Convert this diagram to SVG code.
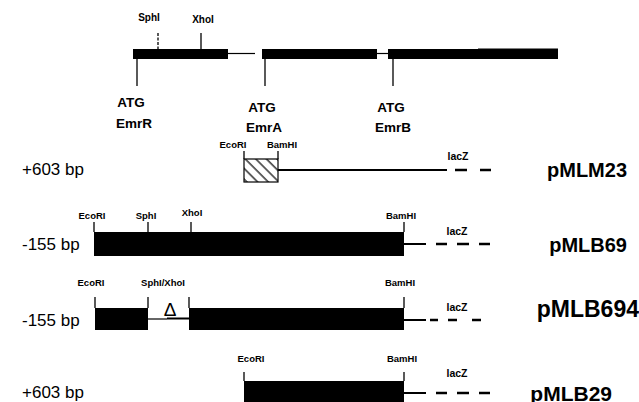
<svg xmlns="http://www.w3.org/2000/svg" width="639" height="402" viewBox="0 0 639 402">
<style>
text{font-family:"Liberation Sans",Arial,sans-serif;fill:#000}
.site{font-size:9.5px;font-weight:bold;text-anchor:middle}
.atg{font-size:13.5px;font-weight:bold;text-anchor:middle}
.bp{font-size:17px}
.name{font-size:20px;font-weight:bold;text-anchor:end}
.lac{font-size:10.5px;font-weight:bold;text-anchor:middle}
.tick{stroke:#000;stroke-width:1.3;fill:none}
.thin{stroke:#000;stroke-width:1.2;fill:none}
.ln{stroke:#000;stroke-width:2;fill:none}
.dash{stroke:#000;stroke-width:2.5;fill:none}
.bar{fill:#000}
</style>
<defs>
<pattern id="hatch" patternUnits="userSpaceOnUse" width="7.5" height="7.5" patternTransform="rotate(-45)">
<line x1="1" y1="0" x2="1" y2="7.5" stroke="#000" stroke-width="1.2"/>
</pattern>
</defs>
<rect width="639" height="402" fill="#fff"/>

<g id="genemap">
<rect class="bar" x="133" y="49" width="95" height="10"/>
<line class="thin" x1="228" y1="53.5" x2="255" y2="53.5"/>
<rect class="bar" x="262" y="49" width="115" height="10"/>
<line class="thin" x1="377" y1="53.5" x2="388" y2="53.5"/>
<rect class="bar" x="388" y="49" width="90" height="10"/>
<rect class="bar" x="478" y="48.5" width="80" height="10.5"/>
<line class="tick" x1="158" y1="33" x2="158" y2="49" stroke-dasharray="3,1.5"/>
<line class="tick" x1="201" y1="33" x2="201" y2="49"/>
<text class="site" x="149" y="21" style="font-size:10px">SphI</text>
<text class="site" x="203" y="23" style="font-size:10px">XhoI</text>
<line class="tick" x1="137" y1="59" x2="137" y2="86"/>
<line class="tick" x1="265" y1="59" x2="265" y2="86"/>
<line class="tick" x1="393" y1="59" x2="393" y2="86"/>
<text class="atg" x="131" y="107">ATG</text>
<text class="atg" x="134" y="128">EmrR</text>
<text class="atg" x="262" y="112">ATG</text>
<text class="atg" x="264" y="132">EmrA</text>
<text class="atg" x="391" y="112">ATG</text>
<text class="atg" x="393" y="132">EmrB</text>
</g>

<g id="pMLM23">
<text class="bp" x="22" y="175">+603 bp</text>
<rect x="244" y="159" width="34" height="23" fill="url(#hatch)" stroke="#000" stroke-width="1.2"/>
<line class="tick" x1="244" y1="151" x2="244" y2="159"/>
<line class="tick" x1="278" y1="151" x2="278" y2="159"/>
<text class="site" x="233" y="148">EcoRI</text>
<text class="site" x="282" y="148">BamHI</text>
<text class="lac" x="458" y="160">lacZ</text>
<text class="name" x="627" y="177">pMLM23</text>
</g>

<g id="pMLB69">
<text class="bp" x="22" y="250">-155 bp</text>
<rect class="bar" x="94" y="232" width="310" height="24"/>
<line class="tick" x1="94" y1="222" x2="94" y2="232"/>
<line class="tick" x1="148" y1="222" x2="148" y2="232"/>
<line class="tick" x1="191" y1="222" x2="191" y2="232"/>
<line class="tick" x1="404" y1="222" x2="404" y2="232"/>
<text class="site" x="92" y="219">EcoRI</text>
<text class="site" x="146" y="219">SphI</text>
<text class="site" x="192" y="216">XhoI</text>
<text class="site" x="401" y="219">BamHI</text>
<text class="lac" x="457" y="235">lacZ</text>
<text class="name" x="627" y="252">pMLB69</text>
</g>

<g id="pMLB694">
<text class="bp" x="22" y="326">-155 bp</text>
<rect class="bar" x="95" y="308" width="53" height="22"/>
<rect class="bar" x="189" y="308" width="215" height="22"/>
<line class="tick" x1="95" y1="297" x2="95" y2="308"/>
<line class="tick" x1="148" y1="297" x2="148" y2="308"/>
<line class="tick" x1="189" y1="297" x2="189" y2="308"/>
<line class="tick" x1="404" y1="297" x2="404" y2="308"/>
<line class="thin" x1="148" y1="319" x2="167" y2="319"/>
<line class="ln" x1="167" y1="318.5" x2="189" y2="318.5"/>
<text x="170" y="316" font-family="'Liberation Serif',serif" font-size="19" text-anchor="middle">Δ</text>
<text class="site" x="91" y="286">EcoRI</text>
<text class="site" x="163" y="286">SphI/XhoI</text>
<text class="site" x="400" y="286">BamHI</text>
<text class="lac" x="457" y="311">lacZ</text>
<text class="name" x="639" y="317" style="font-size:23px">pMLB694</text>
</g>

<g id="pMLB29">
<text class="bp" x="22" y="398">+603 bp</text>
<rect class="bar" x="244" y="381" width="160" height="24"/>
<line class="tick" x1="244" y1="372" x2="244" y2="381"/>
<line class="tick" x1="404" y1="372" x2="404" y2="381"/>
<text class="site" x="251" y="362">EcoRI</text>
<text class="site" x="402" y="362">BamHI</text>
<text class="lac" x="457" y="377">lacZ</text>
<text class="name" x="612" y="401" style="font-size:21px">pMLB29</text>
</g>

<g id="connectors">
<line class="ln" x1="278" y1="170" x2="447" y2="170"/>
<line class="dash" x1="455" y1="170" x2="467" y2="170"/>
<line class="dash" x1="480" y1="170" x2="491" y2="170"/>
<line class="ln" x1="404" y1="244" x2="426" y2="244"/>
<line class="dash" x1="436" y1="244" x2="447" y2="244"/>
<line class="dash" x1="457" y1="244" x2="469" y2="244"/>
<line class="dash" x1="479" y1="244" x2="490" y2="244"/>
<line class="ln" x1="404" y1="320" x2="426" y2="320"/>
<line class="dash" x1="430" y1="320" x2="438" y2="320"/>
<line class="dash" x1="448" y1="320" x2="457" y2="320"/>
<line class="dash" x1="472" y1="320" x2="481" y2="320"/>
<line class="ln" x1="404" y1="393" x2="426" y2="393"/>
<line class="dash" x1="436" y1="393" x2="447" y2="393"/>
<line class="dash" x1="457" y1="393" x2="469" y2="393"/>
<line class="dash" x1="479" y1="393" x2="490" y2="393"/>
</g>
</svg>
